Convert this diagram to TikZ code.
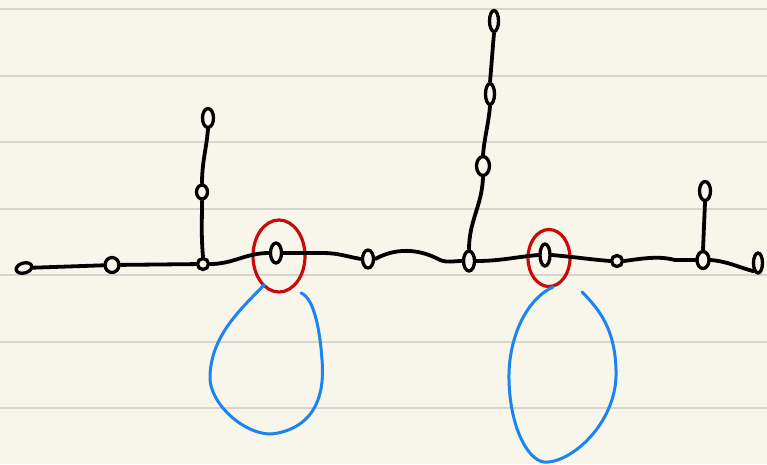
\documentclass[tikz,border=0pt]{standalone}
\usetikzlibrary{shapes.geometric}
\definecolor{paper}{HTML}{F8F6EA}
\definecolor{rulegrey}{HTML}{D4D4D0}
\definecolor{inkred}{HTML}{C80A0A}
\definecolor{inkblue}{HTML}{1A84F0}
\tikzset{
  ink/.style={line width=3.8pt, line cap=round, line join=round, black},
  knot/.style={ellipse, draw=black, fill=none, line width=3.3pt, inner sep=0pt, minimum width=9pt, minimum height=14pt},
  ring/.style={ellipse, draw=inkred, fill=none, line width=3.2pt, inner sep=0pt},
  loopline/.style={line width=3pt, inkblue, line cap=round},
  ruled/.style={rulegrey, line width=1.8pt}
}
\begin{document}
\begin{tikzpicture}[x=1pt,y=-1pt]
\fill[paper] (0,0) rectangle (767,464);
\useasboundingbox (0,0) rectangle (767,464);
\foreach \yy in {9,76,142,209,275,342,408} \draw[ruled] (0,\yy) -- (767,\yy);

% main line knots
\node[knot, minimum width=16pt, minimum height=10pt, rotate=15] (n1) at (24,268) {};
\node[knot, minimum width=14pt, minimum height=15pt] (n2) at (112,265) {};
\node[knot, minimum width=11pt, minimum height=11pt] (n3) at (203,264) {};
\node[knot, minimum width=11pt, minimum height=20pt] (n4) at (276,253) {};
\node[knot, minimum width=11pt, minimum height=18pt] (n5) at (368,259) {};
\node[knot, minimum width=11pt, minimum height=20pt] (n6) at (469,261) {};
\node[knot, minimum width=10pt, minimum height=22pt] (n7) at (545,255) {};
\node[knot, minimum width=11pt, minimum height=11pt] (n8) at (617,261) {};
\node[knot, minimum width=12pt, minimum height=17pt] (n9) at (703,260) {};
\node[knot, minimum width=9pt, minimum height=20pt] (n10) at (758,263) {};
% branch knots
\node[knot, minimum width=11pt, minimum height=14pt] (a1) at (202,192) {};
\node[knot, minimum width=11pt, minimum height=19pt] (a2) at (208,118) {};
\node[knot, minimum width=13pt, minimum height=19pt] (b1) at (483,166) {};
\node[knot, minimum width=9pt, minimum height=21pt] (b2) at (490,94) {};
\node[knot, minimum width=9pt, minimum height=21pt] (b3) at (494,21) {};
\node[knot, minimum width=11pt, minimum height=19pt] (c1) at (705,191) {};

% red rings
\node[ring, minimum width=52pt, minimum height=72pt] (r1) at (279,256) {};
\node[ring, minimum width=42pt, minimum height=57pt] (r2) at (549,258) {};

% main line
\draw[ink] (n1) -- (n2);
\draw[ink] (n2) -- (n3);
\draw[ink] (n3) to[out=0,in=180] (n4);
\draw[ink] (n4.east) -- ++(40,0) to[out=0,in=170] (n5.west);
\draw[ink] (n5.east) .. controls (395,248) and (418,248) .. (440,260) to[out=-20,in=180] (n6.west);
\draw[ink] (n6.east) to[out=0,in=185] (n7.west);
\draw[ink] (n7.east) to[out=-5,in=175] (n8.west);
\draw[ink] (n8.east) .. controls (645,258) and (660,256) .. (675,260) to[out=0,in=180] (n9.west);
\draw[ink] (n9.east) to[out=-5,in=165] (n10.south west);
% branches
\draw[ink] (n3.north) to[out=95,in=-90] (a1.south);
\draw[ink] (a1.north) to[out=90,in=-95] (a2.south);
\draw[ink] (n6.north) to[out=90,in=-92] (b1.south);
\draw[ink] (b1.north) to[out=85,in=-95] (b2.south);
\draw[ink] (b2.north) to[out=85,in=-95] (b3.south);
\draw[ink] (n9.north) -- (c1.south);

% blue loops
\coordinate (s1) at (264,285);
\coordinate (e1) at (301,293);
\draw[loopline] (s1) .. controls (240,310) and (212,335) .. (210,375)
  .. controls (208,405) and (250,440) .. (278,433)
  .. controls (315,425) and (325,395) .. (322,360)
  .. controls (320,330) and (314,298) .. (e1);
\coordinate (s2) at (553,287);
\coordinate (e2) at (582,292);
\draw[loopline] (s2) .. controls (525,300) and (508,340) .. (509,380)
  .. controls (510,430) and (530,465) .. (548,462)
  .. controls (575,460) and (618,420) .. (616,370)
  .. controls (615,330) and (600,310) .. (e2);
\end{tikzpicture}
\end{document}
